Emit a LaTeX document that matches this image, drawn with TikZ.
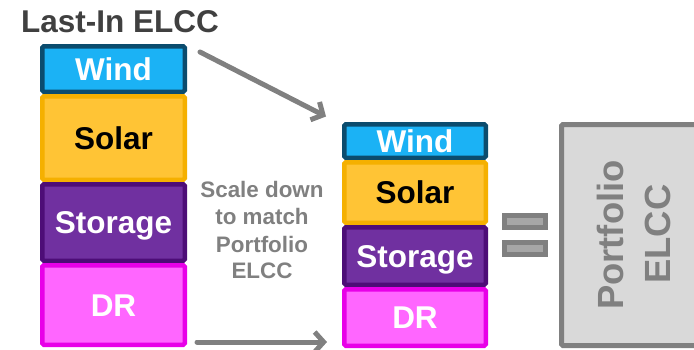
\documentclass[tikz,border=0pt]{standalone}
\usepackage{fontspec}
\setmainfont{Liberation Sans}
\usetikzlibrary{arrows.meta}
\definecolor{windF}{HTML}{1BB2F5}
\definecolor{windD}{HTML}{0B4C6E}
\definecolor{solarF}{HTML}{FFC435}
\definecolor{solarD}{HTML}{F5B000}
\definecolor{storF}{HTML}{7030A0}
\definecolor{storD}{HTML}{4D0D77}
\definecolor{drF}{HTML}{FF66FF}
\definecolor{drD}{HTML}{E800E8}
\definecolor{gDark}{HTML}{808080}
\definecolor{gLight}{HTML}{D9D9D9}
\definecolor{gMid}{HTML}{A6A6A6}
\definecolor{titleC}{HTML}{404040}
\newcommand\boxfont{\bfseries\fontsize{31.5}{36}\selectfont}
\newcommand\midfont{\bfseries\fontsize{22.4}{27}\selectfont}
\newcommand\portfont{\bfseries\fontsize{36.4}{44}\selectfont}
\tikzset{
  blk/.style={draw, line width=4.5pt, rounded corners=1.5pt, inner sep=0pt,
    font=\boxfont, text height=22.6pt, text depth=0pt},
  windbox/.style={blk, fill=windF, draw=windD, text=white},
  solarbox/.style={blk, fill=solarF, draw=solarD, text=black},
  storbox/.style={blk, fill=storF, draw=storD, text=white},
  drbox/.style={blk, fill=drF, draw=drD, text=white},
  leftcol/.style={minimum width=142.5pt},
  midcol/.style={minimum width=141.5pt},
  eqbar/.style={draw=gDark, fill=gMid, line width=5pt, minimum width=41.6pt,
    minimum height=11.7pt, inner sep=0pt},
  conn/.style={draw=gDark, line width=5pt, line cap=round,
    -{Straight Barb[length=9pt,width=20pt]}},
  midtext/.style={anchor=base, inner sep=0pt, font=\midfont, text=gDark},
  porttext/.style={anchor=base, inner sep=0pt, font=\portfont, text=gDark, rotate=90}
}
\begin{document}
\begin{tikzpicture}[x=1pt,y=-1pt]
\useasboundingbox (0,0) rectangle (694,349);
\clip (0,0) rectangle (694,349);
% title
\node[anchor=base, inner sep=0pt, font=\boxfont, text=titleC] (title) at (120,32.5) {Last-In ELCC};
% left stack
\node[windbox, leftcol, minimum height=45.5pt] (lwind) at (113.5,69) {Wind};
\node[solarbox, leftcol, minimum height=83.5pt] (lsolar) at (113.5,138) {Solar};
\node[storbox, leftcol, minimum height=76.5pt] (lstor) at (113.5,222.5) {Storage};
\node[drbox, leftcol, minimum height=79.5pt] (ldr) at (113.5,305) {DR};
% middle stack
\node[windbox, midcol, minimum height=33.5pt] (mwind) at (415,141) {Wind};
\node[solarbox, midcol, minimum height=60.5pt] (msolar) at (415,192.5) {Solar};
\node[storbox, midcol, minimum height=57.5pt] (mstor) at (415,256) {Storage};
\node[drbox, midcol, minimum height=56.5pt] (mdr) at (415,317.5) {DR};
% middle text
\node[midtext] (t1) at (262,197) {Scale down};
\node[midtext] (t2) at (262,224) {to match};
\node[midtext] (t3) at (262,252) {Portfolio};
\node[midtext] (t4) at (262,278) {ELCC};
% arrows
\coordinate (a1) at (200,52);
\coordinate (a2) at (326,116.5);
\coordinate (b1) at (197,342);
\coordinate (b2) at (327,342);
\draw[conn] (a1) -- (a2);
\draw[conn] (b1) -- (b2);
% equals sign
\node[eqbar] (eq1) at (525,221.7) {};
\node[eqbar] (eq2) at (525,248.3) {};
% portfolio box
\node[draw=gDark, fill=gLight, line width=5pt, rounded corners=1.5pt, inner sep=0pt,
  minimum width=178pt, minimum height=221pt] (port) at (650.5,235) {};
\node[porttext] (p1) at (623.5,235) {Portfolio};
\node[porttext] (p2) at (670,234) {ELCC};
\end{tikzpicture}
\end{document}
